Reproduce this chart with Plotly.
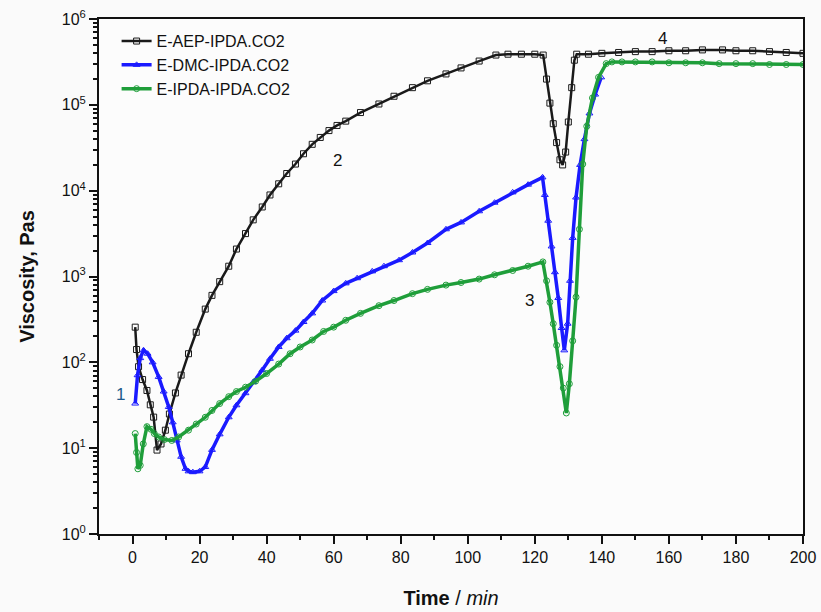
import math
import plotly.graph_objects as go

# ---------------- data ----------------
t_aep = [0.8, 1.2, 1.8, 3.0, 4.3, 5.3, 6.3, 7.3, 8.5, 9.8, 11.0, 12.8, 14.5, 16.7, 19.0,
         21.7, 23.7, 26.0, 28.7, 31.0, 33.7, 36.0, 38.7, 41.0, 43.6, 46.0, 48.6, 51.0,
         53.6, 56.0, 58.6, 61.0, 63.6, 68.0, 73.5, 78.0, 83.5, 88.0, 93.5, 98.0, 103.4,
         108.4, 112, 116, 120, 122.5, 123.5, 124.5, 125.5, 126.5, 127.5, 128.3, 129.2,
         130.0, 131.0, 131.8, 132.5, 136, 140, 145, 150, 155, 160, 165, 170, 176, 180,
         185, 190, 195, 200]
v_aep = [257, 141, 89, 63, 47, 32, 23, 9.5, 11.2, 16.2, 25, 44, 71, 126, 224,
         417, 603, 871, 1318, 2089, 3162, 4571, 6457, 8913, 12020, 15850, 20420, 26920,
         34670, 41690, 50120, 57540, 64570, 81280, 102300, 125900, 158500, 190500, 229100,
         269200, 323600, 380200, 389000, 389000, 389000, 380200, 199500, 104700, 60260,
         36310, 22910, 19950, 28180, 63100, 158500, 331100, 389000, 389000, 398100, 407400,
         416900, 416900, 426600, 426600, 436500, 436500, 426600, 426600, 416900, 407400, 398100]

t_dmc = [0.8, 1.5, 2.3, 3.3, 4.5, 6.0, 7.8, 9.3, 10.8, 12.0, 13.2, 14.5, 15.8, 16.7, 18.0,
         20.0, 21.7, 23.7, 26.0, 28.7, 31.0, 33.7, 36.0, 38.7, 41.0, 43.6, 46.0, 48.6, 51.0,
         53.6, 56.6, 60.0, 63.6, 67.0, 71.5, 75.0, 79.5, 83.5, 88.0, 93.5, 98.0, 103.4, 108.0,
         113.4, 118.0, 122.3, 123.0, 124.0, 125.0, 126.0, 127.0, 128.0, 128.8, 129.8, 130.5,
         131.3, 132.3, 133.5, 134.8, 136.3, 138.0, 139.8]
v_dmc = [33.1, 70.8, 112, 138, 126, 100, 67.6, 45.7, 30.2, 20.0, 12.3, 7.94, 5.75, 5.37, 5.25,
         5.37, 6.03, 9.55, 14.5, 22.9, 31.6, 43.7, 58.9, 81.3, 110, 151, 191, 234, 295,
         372, 525, 676, 832, 955, 1148, 1318, 1549, 1905, 2455, 3548, 4266, 5754, 7244,
         9550, 11750, 14290, 8913, 4467, 2239, 1122, 562, 251, 138, 282, 891,
         2818, 8318, 19950, 39810, 79430, 131800, 208900]

t_ipda = [0.8, 1.2, 1.6, 2.3, 3.2, 4.3, 5.5, 6.5, 7.8, 9.5, 11.7, 13.75, 16.7, 19.0, 21.7,
          23.7, 26.0, 28.7, 31.0, 33.7, 36.7, 40.0, 43.6, 47.0, 50.0, 53.6, 57.0, 60.0, 63.6,
          68.0, 73.5, 78.0, 83.5, 88.0, 93.5, 98.0, 103.4, 108.0, 113.4, 118.0, 122.4, 123.5,
          124.5, 125.5, 126.5, 127.5, 128.5, 129.4, 130.3, 131.3, 132.3, 133.3, 134.3, 135.5,
          137.2, 139.0, 141.3, 143, 146, 150, 155, 160, 165, 170, 175, 180, 185, 190, 195, 200]
v_ipda = [14.8, 8.91, 5.75, 6.31, 11.2, 17.8, 16.6, 14.8, 13.5, 12.6, 12.3, 13.5, 16.2, 19.1, 22.9,
          27.5, 33.1, 39.8, 45.7, 51.3, 60.3, 74.1, 95.5, 126, 151, 182, 229, 257, 309,
          372, 457, 525, 631, 708, 794, 851, 933, 1047, 1175, 1318, 1479, 891,
          501, 282, 158, 89.1, 50.1, 25.7, 56.2, 178, 575, 3548, 20420, 56230,
          120200, 208900, 302000, 316200, 316200, 316200, 316200, 309000, 309000, 309000,
          302000, 302000, 302000, 295100, 295100, 295100]

series_names = ["E-AEP-IPDA.CO2", "E-DMC-IPDA.CO2", "E-IPDA-IPDA.CO2"]
series_colors = ["#1a1a1a", "#1a1aff", "#1f9e3a"]
series_widths = [2.5, 3.5, 3.5]
series_symbols = ["square-open", "triangle-up-open", "circle-open"]

curve_labels = ["1", "2", "3", "4"]
label_x = [-3.6, 61, 118.4, 158]
label_v = [41.7, 22400, 525, 589000]
label_colors = ["#1f5a8c", "#111111", "#111111", "#111111"]

x_tickvals = list(range(0, 201, 20))
y_tickvals = [1, 10, 100, 1000, 10000, 100000, 1000000]
y_ticktext = ["10<sup>0</sup>", "10<sup>1</sup>", "10<sup>2</sup>", "10<sup>3</sup>",
              "10<sup>4</sup>", "10<sup>5</sup>", "10<sup>6</sup>"]
y_minor_vals = [m * d for d in [1, 10, 100, 1000, 10000, 100000] for m in range(2, 10)]

# ---------------- figure ----------------
fig = go.Figure()
data = [(t_aep, v_aep), (t_dmc, v_dmc), (t_ipda, v_ipda)]
for (tx, vy), name, col, w, sym in zip(data, series_names, series_colors, series_widths, series_symbols):
    fig.add_trace(go.Scatter(
        x=tx, y=vy, name=name, mode="lines+markers",
        line=dict(color=col, width=w),
        marker=dict(symbol=sym, size=6, color=col, line=dict(width=1, color=col)),
    ))

for txt, xx, vv, c in zip(curve_labels, label_x, label_v, label_colors):
    fig.add_annotation(x=xx, y=math.log10(vv), xref="x", yref="y", text=txt, showarrow=False,
                       font=dict(family="Liberation Sans, Arial", size=17, color=c))

axis_font = dict(family="Liberation Sans, Arial", size=16, color="#111111")
title_font = dict(family="Liberation Sans, Arial", size=20, color="#111111")

fig.update_layout(
    width=821, height=612,
    margin=dict(l=99, r=18, t=19, b=78),
    paper_bgcolor="#fafafa", plot_bgcolor="#fcfcfc",
    font=axis_font,
    showlegend=True,
    legend=dict(x=0.025, y=0.99, xanchor="left", yanchor="top",
                bgcolor="rgba(0,0,0,0)", borderwidth=0,
                font=dict(family="Liberation Sans, Arial", size=16, color="#111111"),
                tracegroupgap=0),
    xaxis=dict(
        range=[-10, 200], tickvals=x_tickvals, automargin=False,
        ticks="outside", ticklen=8, tickwidth=1.5, tickcolor="#111111",
        showline=True, linecolor="#111111", linewidth=2, mirror=True,
        showgrid=False, zeroline=False,
        minor=dict(dtick=10, tick0=0, ticks="outside", ticklen=4, tickcolor="#111111", showgrid=False),
        tickfont=axis_font,
        title=dict(text="<b>Time</b> / <i>min</i>", font=title_font, standoff=26),
    ),
    yaxis=dict(
        type="log", range=[0, 6], tickvals=y_tickvals, ticktext=y_ticktext, automargin=False,
        ticks="outside", ticklen=8, tickwidth=1.5, tickcolor="#111111",
        showline=True, linecolor="#111111", linewidth=2, mirror=True,
        showgrid=False, zeroline=False,
        minor=dict(tickmode="array", tickvals=y_minor_vals, ticks="outside", ticklen=4,
                   tickcolor="#111111", showgrid=False),
        tickfont=axis_font,
        title=dict(text="<b>Viscosity, Pas</b>", font=title_font, standoff=22),
    ),
)

fig.write_html("out.html", config={"displayModeBar": False},
               post_script="document.body.style.margin='0';")
